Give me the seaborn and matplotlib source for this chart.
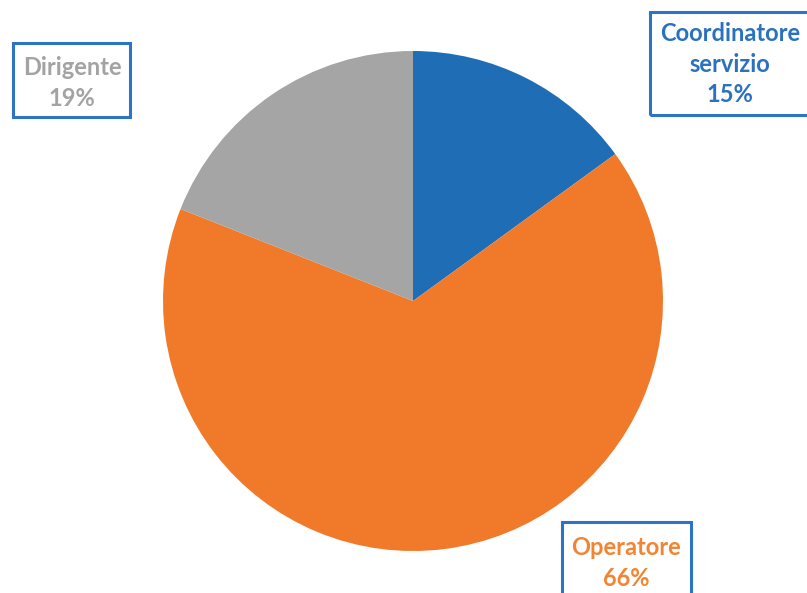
import matplotlib
matplotlib.use("Agg")
import matplotlib.pyplot as plt
from matplotlib.patches import Rectangle
import seaborn as sns

# Share of respondents by role
categories = ["Coordinatore\nservizio", "Operatore", "Dirigente"]
shares = [15, 66, 19]
colors = ["#1F6DB5", "#F07A2A", "#A5A5A5"]
text_colors = ["#2A72C0", "#F28534", "#A3A3A3"]

sns.set_theme(style="white")
plt.rcParams["font.family"] = ["Lato", "DejaVu Sans"]

W, H = 807, 593
fig = plt.figure(figsize=(W / 100, H / 100), dpi=100)
ax = fig.add_axes([0, 0, 1, 1])

ax.pie(shares, colors=colors, startangle=90, counterclock=False,
       center=(413, H - 301), radius=250,
       wedgeprops=dict(linewidth=0))
ax.set_xlim(0, W)
ax.set_ylim(0, H)
ax.set_aspect("equal")
ax.axis("off")

# Callout boxes: (left, top, right, bottom) in pixel space, and text centre
box_edges = [(650, 12, 812, 115), (562, 522, 691, 600), (13, 43, 130, 117)]
text_centres = [(730, 64), (626, 563), (72, 83)]
border = "#2E74C4"
for (l, t, r, b), (cx, cy), name, pct, tc in zip(
        box_edges, text_centres, categories, shares, text_colors):
    ax.add_patch(Rectangle((l, H - b), r - l, b - t, fill=False,
                           edgecolor=border, linewidth=2.2, zorder=3,
                           clip_on=False))
    ax.text(cx, H - cy, f"{name}\n{pct}%", ha="center", va="center",
            color=tc, fontsize=17, fontweight="bold", linespacing=1.42,
            zorder=4)

fig.savefig("out.png", dpi=100)
